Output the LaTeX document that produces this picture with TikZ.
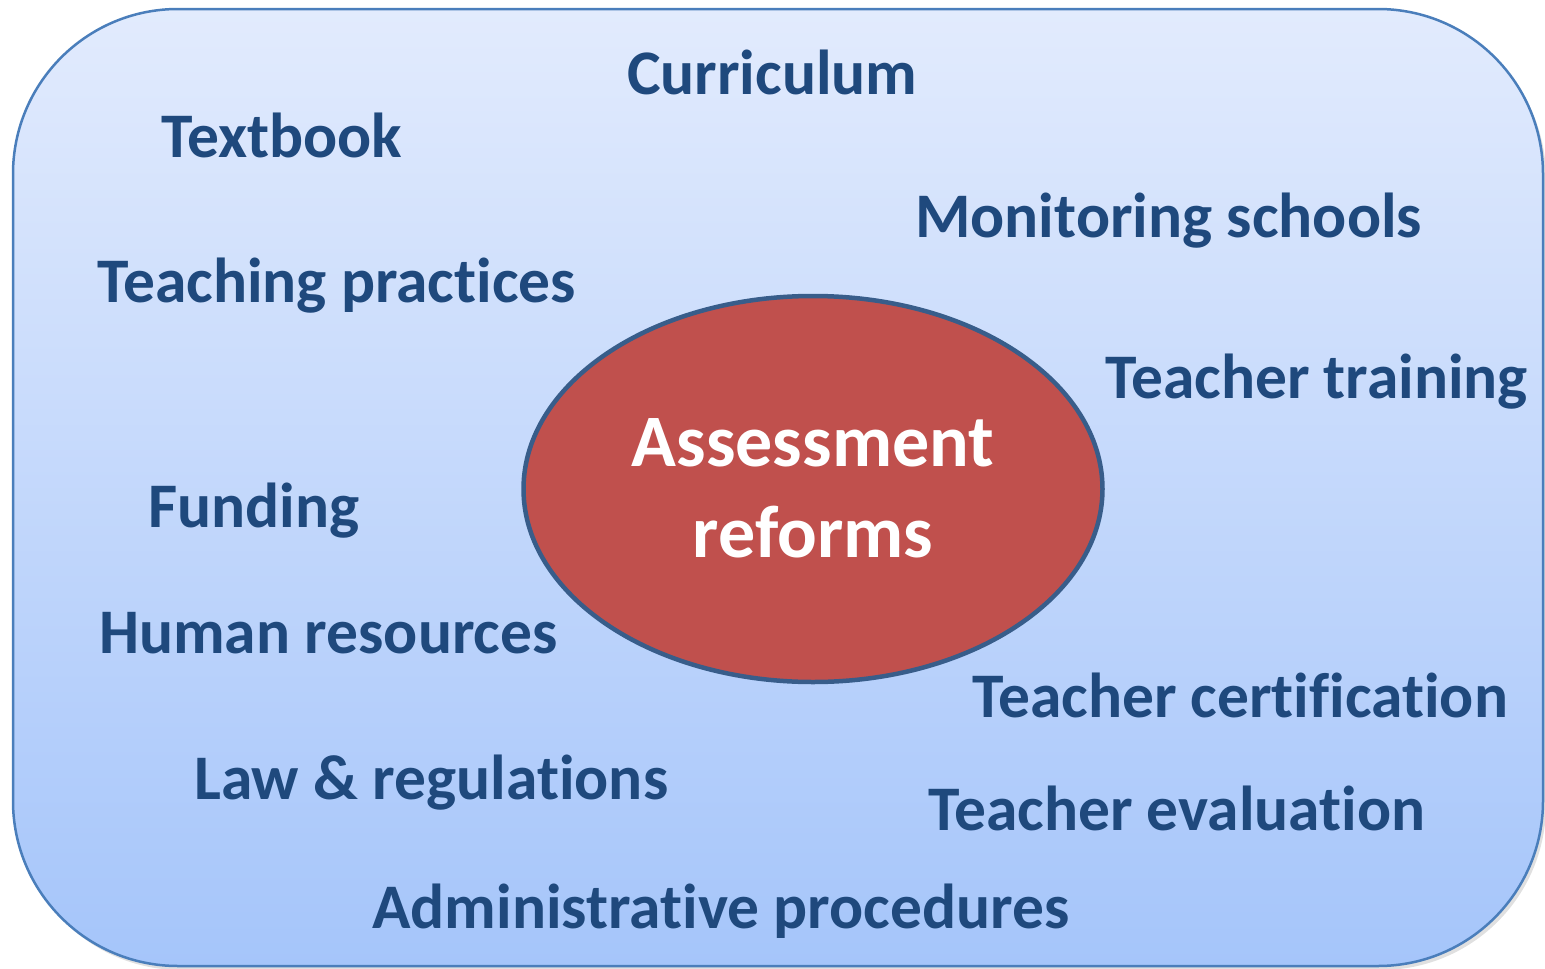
\documentclass[tikz,border=0pt]{standalone}
\usepackage{fontspec}
\setmainfont[Ligatures=NoCommon]{Carlito}
\definecolor{txtblue}{RGB}{31,73,125}
\definecolor{boxtop}{RGB}{226,235,253}
\definecolor{boxbot}{RGB}{165,197,250}
\definecolor{boxline}{RGB}{74,126,187}
\definecolor{ellfill}{RGB}{192,80,77}
\definecolor{ellline}{RGB}{56,93,138}
\tikzset{
  lbl/.style={anchor=base west, inner sep=0pt, text=txtblue, font=\fontsize{63.5}{75}\selectfont\bfseries},
  centre/.style={ellipse, minimum width=579pt, minimum height=386pt, fill=ellfill, draw=ellline, line width=4.5pt, inner sep=0pt},
  ctext/.style={anchor=base, inner sep=0pt, text=white, font=\fontsize{74}{88}\selectfont\bfseries}
}
\usetikzlibrary{shapes.geometric}
\begin{document}
\begin{tikzpicture}[x=1pt,y=-1pt]
\useasboundingbox (0,0) rectangle (1545,969);
% shadow
\fill[black!35, opacity=0.35, rounded corners=165pt] (16,13) rectangle (1546,970);
\shade[top color=boxtop, bottom color=boxbot, draw=boxline, line width=2.5pt, rounded corners=165pt] (13,9) rectangle (1543,966);
\node[centre] (c) at (813,489) {};
\node[ctext] (a1) at (813,466) {Assessment};
\node[ctext] (a2) at (813,557) {reforms};
\node[lbl] (n1) at (627,94) {Curriculum};
\node[lbl] (n2) at (161,157) {Textbook};
\node[lbl] (n3) at (915,237) {Monitoring schools};
\node[lbl] (n4) at (97,302) {Teaching practices};
\node[lbl] (n5) at (1105,398) {Teacher training};
\node[lbl] (n6) at (148,527) {Funding};
\node[lbl] (n7) at (99,653) {Human resources};
\node[lbl] (n8) at (972,717) {Teacher certification};
\node[lbl] (n9) at (194,799) {Law \& regulations};
\node[lbl] (n10) at (928,830) {Teacher evaluation};
\node[lbl] (n11) at (372,928) {Administrative procedures};
\end{tikzpicture}
\end{document}
